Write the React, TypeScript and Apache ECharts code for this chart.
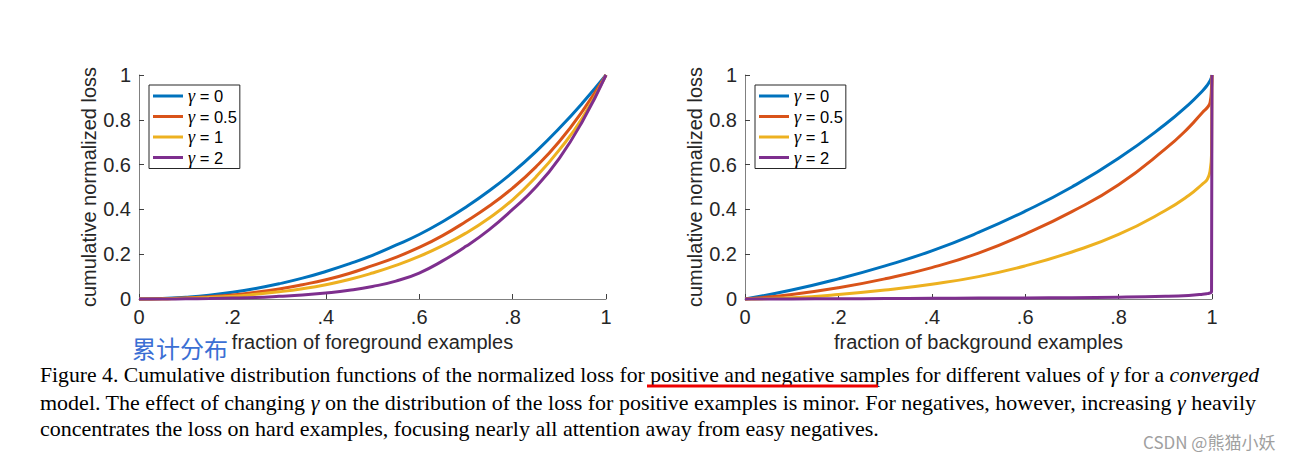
import React, { useEffect, useRef } from "react";
import * as echarts from "echarts";

// ---------- data ----------
const gammaNames = ["γ = 0", "γ = 0.5", "γ = 1", "γ = 2"];
const gammaColors = ["#0072BD", "#D95319", "#EDB120", "#7E2F8E"];

const xTicks = ["0", ".2", ".4", ".6", ".8", "1"];
const yTicks = ["0", "0.2", "0.4", "0.6", "0.8", "1"];

// foreground (positive) examples
const fgX = [0, 0.05, 0.1, 0.15, 0.2, 0.25, 0.3, 0.35, 0.4, 0.45, 0.5, 0.55, 0.6, 0.65, 0.7, 0.75, 0.8, 0.85, 0.9, 0.95, 1];
const fgGamma0 = [0, 0.002, 0.008, 0.017, 0.03, 0.047, 0.068, 0.093, 0.123, 0.157, 0.195, 0.24, 0.288, 0.345, 0.41, 0.483, 0.565, 0.658, 0.762, 0.876, 1];
const fgGamma05 = [0, 0.001, 0.004, 0.01, 0.018, 0.03, 0.045, 0.064, 0.086, 0.114, 0.149, 0.186, 0.23, 0.283, 0.346, 0.415, 0.495, 0.59, 0.703, 0.84, 1];
const fgGamma1 = [0, 0.001, 0.003, 0.007, 0.012, 0.021, 0.032, 0.046, 0.064, 0.087, 0.116, 0.15, 0.19, 0.238, 0.294, 0.362, 0.443, 0.545, 0.666, 0.81, 1];
const fgGamma2 = [0, 0, 0.001, 0.002, 0.004, 0.007, 0.012, 0.018, 0.027, 0.039, 0.056, 0.08, 0.116, 0.17, 0.235, 0.31, 0.4, 0.5, 0.628, 0.795, 1];

// background (negative) examples
const bgX = [0, 0.1, 0.2, 0.3, 0.4, 0.5, 0.6, 0.7, 0.8, 0.9, 0.95, 0.98, 0.99, 0.996, 0.999, 1];
const bgGamma0 = [0, 0.04, 0.09, 0.148, 0.215, 0.297, 0.392, 0.5, 0.628, 0.78, 0.868, 0.93, 0.955, 0.975, 0.99, 1];
const bgGamma05 = [0, 0.02, 0.05, 0.09, 0.14, 0.205, 0.29, 0.39, 0.51, 0.67, 0.765, 0.834, 0.855, 0.878, 0.945, 1];
const bgGamma1 = [0, 0.006, 0.02, 0.04, 0.066, 0.1, 0.148, 0.21, 0.288, 0.395, 0.462, 0.514, 0.535, 0.574, 0.648, 1];
const bgGamma2 = [0, 0.0005, 0.001, 0.002, 0.003, 0.004, 0.005, 0.006, 0.008, 0.012, 0.016, 0.021, 0.024, 0.027, 0.032, 1];

const fgSeries = [fgGamma0, fgGamma05, fgGamma1, fgGamma2];
const bgSeries = [bgGamma0, bgGamma05, bgGamma1, bgGamma2];

const xTitles = ["fraction of foreground examples", "fraction of background examples"];
const yTitle = "cumulative normalized loss";

const captionLines = [
  "Figure 4. Cumulative distribution functions of the normalized loss for positive and negative samples for different values of {g|γ} for a {i|converged}",
  "model. The effect of changing {g|γ} on the distribution of the loss for positive examples is minor. For negatives, however, increasing {g|γ} heavily",
  "concentrates the loss on hard examples, focusing nearly all attention away from easy negatives.",
];
const annotation = "累计分布";
const watermark = "CSDN @熊猫小妖";

// ---------- helpers ----------
const zip = (xs: number[], ys: number[]) => xs.map((x, i) => [x, ys[i]]);

const axisText = "#262626";
const axisFont = 20;

function makeX(idx: number) {
  return {
    type: "value",
    gridIndex: idx,
    min: 0,
    max: 1,
    interval: 0.2,
    splitLine: { show: false },
    axisLine: { show: true, lineStyle: { color: "#808080", width: 1 } },
    axisTick: { show: true, inside: true, length: 5, lineStyle: { color: "#404040" } },
    axisLabel: {
      fontSize: axisFont,
      color: axisText,
      margin: 8,
      fontFamily: "Liberation Sans",
      formatter: (v: number) => xTicks[Math.round(v * 5)],
    },
    name: xTitles[idx],
    nameLocation: "middle",
    nameGap: 33,
    nameTextStyle: { fontSize: axisFont, color: axisText, fontFamily: "Liberation Sans" },
  };
}

function makeY(idx: number) {
  return {
    type: "value",
    gridIndex: idx,
    min: 0,
    max: 1,
    interval: 0.2,
    splitLine: { show: false },
    axisLine: { show: true, lineStyle: { color: "#808080", width: 1 } },
    axisTick: { show: true, inside: true, length: 5, lineStyle: { color: "#404040" } },
    axisLabel: {
      fontSize: axisFont,
      color: axisText,
      margin: 8,
      fontFamily: "Liberation Sans",
      formatter: (v: number) => yTicks[Math.round(v * 5)],
    },
    name: yTitle,
    nameLocation: "middle",
    nameGap: 36,
    nameTextStyle: { fontSize: axisFont, color: axisText, fontFamily: "Liberation Sans" },
  };
}

function makeLegend(left: number) {
  return {
    orient: "vertical",
    left,
    top: 85,
    data: gammaNames,
    icon: "rect",
    itemWidth: 30,
    itemHeight: 3,
    itemGap: 0.5,
    padding: [1, 3, 1, 4],
    borderColor: "#262626",
    borderWidth: 1,
    backgroundColor: "#fff",
    selectedMode: false,
    formatter: (n: string) => "{g|γ}" + n.slice(1),
    textStyle: {
      fontSize: 16.5,
      color: "#000",
      lineHeight: 20,
      fontFamily: "Liberation Sans",
      rich: {
        g: { fontFamily: "Liberation Serif", fontStyle: "italic", fontSize: 18, lineHeight: 20, color: "#000" },
      },
    },
  };
}

export default function App() {
  const ref = useRef<HTMLDivElement>(null);
  useEffect(() => {
    if (!ref.current) return;
    const chart = echarts.init(ref.current, undefined, { renderer: "svg" });
    const series: any[] = [];
    const addSeries = (groups: number[][], xs: number[], axis: number) =>
      groups.forEach((ys, i) =>
        series.push({
          type: "line",
          name: gammaNames[i],
          xAxisIndex: axis,
          yAxisIndex: axis,
          data: zip(xs, ys),
          symbol: "none",
          smooth: 0.5,
          clip: false,
          color: gammaColors[i],
          lineStyle: { width: 3, color: gammaColors[i] },
        })
      );
    addSeries(fgSeries, fgX, 0);
    addSeries(bgSeries, bgX, 1);

    const captionSizes = [21.7, 22, 22];
    const captionY = [375, 402, 428];
    const graphic: any[] = [
      ...captionLines.map((t, k) => ({
        type: "text",
        x: 40,
        y: captionY[k],
        style: {
          text: t,
          font: `${captionSizes[k]}px 'Liberation Serif'`,
          fill: "#000",
          verticalAlign: "middle",
          textVerticalAlign: "middle",
          rich: {
            g: { fontFamily: "Liberation Serif", fontStyle: "italic", fontSize: captionSizes[k], fill: "#000" },
            i: { fontFamily: "Liberation Serif", fontStyle: "italic", fontSize: captionSizes[k], fill: "#000" },
          },
        },
      })),
      {
        type: "line",
        shape: { x1: 647, y1: 386, x2: 878, y2: 386 },
        style: { stroke: "#ee0000", lineWidth: 3 },
      },
      {
        type: "text",
        x: 132,
        y: 347,
        style: {
          text: annotation,
          font: "24px 'Noto Sans CJK SC'",
          fill: "#3b6fd4",
          verticalAlign: "middle",
          textVerticalAlign: "middle",
        },
      },
      {
        type: "text",
        x: 1143,
        y: 441,
        style: {
          text: watermark,
          font: "17px 'Noto Sans CJK SC'",
          fill: "#a0a0a0",
          verticalAlign: "middle",
          textVerticalAlign: "middle",
        },
      },
    ];
    chart.setOption({
      animation: false,
      backgroundColor: "#fff",
      grid: [
        { left: 139, top: 75, width: 467, height: 224 },
        { left: 745, top: 75, width: 467, height: 224 },
      ],
      xAxis: [makeX(0), makeX(1)],
      yAxis: [makeY(0), makeY(1)],
      legend: [makeLegend(149), makeLegend(755)],
      series,
      graphic,
    } as any);
    return () => chart.dispose();
  }, []);
  return (
    <div
      ref={ref}
      style={{ position: "fixed", left: 0, top: 0, width: 1292, height: 460, background: "#fff" }}
    />
  );
}
